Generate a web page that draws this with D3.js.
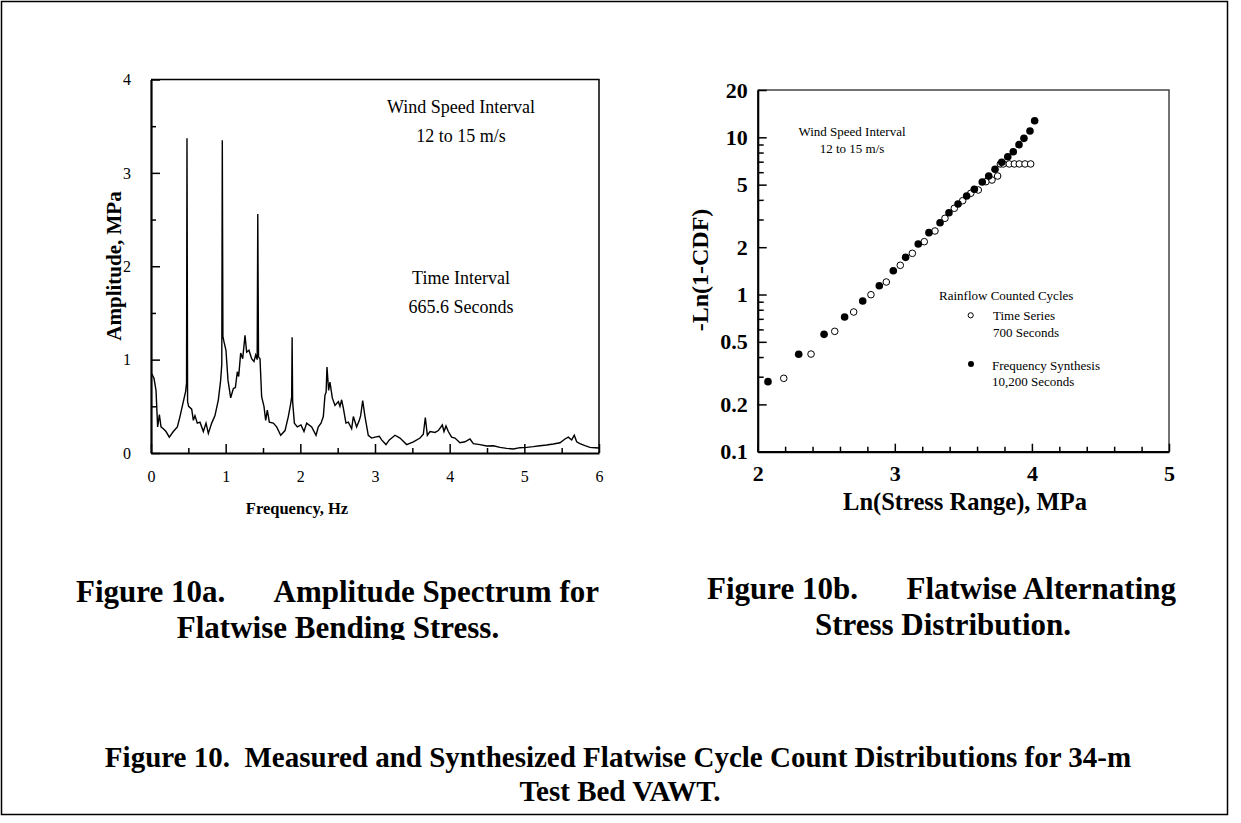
<!DOCTYPE html>
<html><head><meta charset="utf-8">
<script src="https://cdn.jsdelivr.net/npm/d3@7"></script>
<style>
html,body{margin:0;padding:0;background:#fff;}
svg{display:block;font-family:"Liberation Serif","Times New Roman",serif;}
</style></head><body>
<svg id="fig" width="1241" height="823"></svg>
<script>
// Amplitude spectrum of flatwise bending stress (Hz, MPa)
const spectrumFreq = [0.009,0.040,0.067,0.089,0.112,0.134,0.165,0.201,0.245,0.299,0.353,0.388,0.433,0.464,0.476,0.482,0.490,0.504,0.545,0.567,0.589,0.620,0.656,0.701,0.737,0.768,0.813,0.857,0.902,0.933,0.948,0.955,0.963,0.978,1.004,1.031,1.067,1.103,1.130,1.156,1.174,1.201,1.228,1.259,1.281,1.312,1.348,1.379,1.402,1.422,1.430,1.440,1.460,1.482,1.513,1.536,1.558,1.585,1.638,1.683,1.737,1.795,1.839,1.871,1.884,1.890,1.897,1.920,1.960,2.009,2.049,2.085,2.152,2.210,2.241,2.277,2.308,2.330,2.345,2.357,2.379,2.397,2.428,2.464,2.509,2.531,2.553,2.576,2.611,2.643,2.687,2.710,2.754,2.790,2.808,2.835,2.866,2.910,2.955,3.000,3.058,3.089,3.147,3.192,3.268,3.335,3.424,3.514,3.603,3.647,3.674,3.701,3.737,3.804,3.848,3.902,3.924,3.951,3.982,4.026,4.071,4.138,4.205,4.272,4.317,4.406,4.495,4.585,4.674,4.763,4.853,4.942,5.031,5.120,5.210,5.299,5.388,5.478,5.544,5.589,5.634,5.669,5.701,5.745,5.812,5.879,5.946,6.000];
const spectrumAmp = [0.85,0.80,0.67,0.28,0.41,0.28,0.26,0.23,0.17,0.23,0.28,0.39,0.55,0.66,0.75,3.37,0.55,0.50,0.47,0.35,0.40,0.32,0.33,0.23,0.32,0.21,0.32,0.40,0.57,0.78,0.95,3.35,1.25,1.19,1.10,0.78,0.59,0.69,0.70,0.87,0.82,1.07,1.01,1.26,1.08,1.10,1.01,0.98,1.05,1.00,2.56,1.03,1.01,0.60,0.50,0.35,0.46,0.33,0.32,0.28,0.19,0.24,0.39,0.53,0.60,1.24,0.55,0.32,0.28,0.30,0.23,0.32,0.28,0.19,0.28,0.32,0.39,0.62,0.65,0.92,0.67,0.76,0.59,0.51,0.55,0.50,0.57,0.48,0.32,0.33,0.26,0.39,0.28,0.35,0.40,0.56,0.39,0.19,0.16,0.17,0.18,0.14,0.09,0.14,0.19,0.16,0.09,0.12,0.16,0.20,0.38,0.19,0.23,0.22,0.24,0.30,0.23,0.29,0.23,0.17,0.16,0.11,0.12,0.15,0.10,0.09,0.075,0.078,0.06,0.05,0.043,0.057,0.06,0.068,0.078,0.086,0.096,0.11,0.15,0.17,0.14,0.19,0.12,0.10,0.078,0.06,0.057,0.054];
const freqTicks = [0,1,2,3,4,5,6];
const ampTicks = [0,1,2,3,4];

// Rainflow counted cycles: Ln(stress range) vs -Ln(1-CDF)
const synthStress = [2.075,2.299,2.484,2.634,2.766,2.887,2.989,3.079,3.171,3.249,3.330,3.395,3.461,3.524,3.580,3.638,3.685,3.731,3.780,3.824,3.864,3.906,3.942,3.986,4.020];
const synthProb = [0.279,0.417,0.558,0.719,0.909,1.138,1.417,1.724,2.096,2.474,2.863,3.315,3.765,4.234,4.67,5.2,5.674,6.258,6.935,7.53,8.1,8.98,9.85,10.97,12.76];
const seriesStress = [2.190,2.389,2.562,2.700,2.826,2.938,3.040,3.128,3.215,3.293,3.366,3.434,3.495,3.554,3.609,3.665,3.709,3.750,3.770,3.791,3.835,3.872,3.908,3.950,3.991];
const seriesProb = [0.293,0.418,0.583,0.774,0.997,1.201,1.534,1.828,2.168,2.536,3.054,3.536,3.952,4.404,4.623,5.22,5.35,5.674,6.77,6.77,6.77,6.77,6.77,6.77,6.77];
const stressTicks = [2,3,4,5];
const probTicks = [0.1,0.2,0.5,1,2,5,10,20];

const svg = d3.select('#fig');
const serif = '"Liberation Serif","Times New Roman",serif';

// page frame
svg.append('rect').attr('x',1.5).attr('y',1.5).attr('width',1226).attr('height',813)
  .attr('fill','none').attr('stroke','#000').attr('stroke-width',1.5);

function styleAxis(g, size, weight, domainW){
  g.attr('font-family', serif).attr('font-size', size).attr('font-weight', weight);
  g.selectAll('text').attr('fill','#000');
  g.selectAll('line').attr('stroke','#000').attr('stroke-width',1.5);
  g.select('.domain').attr('stroke','#000').attr('stroke-width',domainW);
}

// ---------- Figure 10a: amplitude spectrum ----------
const xA = d3.scaleLinear().domain([0,6]).range([151,599]);
const yA = d3.scaleLinear().domain([0,4]).range([453,79.5]);
const gA = svg.append('g');

gA.append('path').attr('d', `M${xA(0)},${yA(4)}H${xA(6)}V${yA(0)}`)
  .attr('fill','none').attr('stroke','#000').attr('stroke-width',1.5);

gA.append('g').attr('transform',`translate(0,${yA(0)})`)
  .call(d3.axisBottom(xA).tickValues(freqTicks.slice(0,-1).map(v=>v+0.5)).tickSize(-5).tickFormat('').tickSizeOuter(0))
  .call(g=>{g.select('.domain').remove(); styleAxis(g,16,'normal',2);});
gA.append('g').attr('transform',`translate(${xA(0)},0)`)
  .call(d3.axisLeft(yA).tickValues(ampTicks.slice(0,-1).map(v=>v+0.5)).tickSize(-5).tickFormat('').tickSizeOuter(0))
  .call(g=>{g.select('.domain').remove(); styleAxis(g,16,'normal',2);});

gA.append('g').attr('transform',`translate(0,${yA(0)})`)
  .call(d3.axisBottom(xA).tickValues(freqTicks).tickSize(-9).tickSizeOuter(0).tickPadding(18).tickFormat(d3.format('d')))
  .call(g=>styleAxis(g,16,'normal',2.2));
gA.append('g').attr('transform',`translate(${xA(0)},0)`)
  .call(d3.axisLeft(yA).tickValues(ampTicks).tickSize(-9).tickSizeOuter(0).tickPadding(20).tickFormat(d3.format('d')))
  .call(g=>styleAxis(g,16,'normal',2.2));

const spectrumLine = d3.line().x(d=>xA(d[0])).y(d=>yA(d[1]));
gA.append('path').datum(d3.zip(spectrumFreq, spectrumAmp))
  .attr('d', spectrumLine).attr('fill','none').attr('stroke','#000')
  .attr('stroke-width',1.4).attr('stroke-linejoin','miter');

const annA = gA.append('g').attr('font-family',serif).attr('font-size',18).attr('text-anchor','middle').attr('fill','#000');
annA.append('text').attr('x',461).attr('y',113).text('Wind Speed Interval');
annA.append('text').attr('x',461).attr('y',142).text('12 to 15 m/s');
annA.append('text').attr('x',461).attr('y',284).text('Time Interval');
annA.append('text').attr('x',461).attr('y',313).text('665.6 Seconds');

gA.append('text').attr('x',297).attr('y',514).attr('text-anchor','middle')
  .attr('font-family',serif).attr('font-size',16.5).attr('font-weight','bold').text('Frequency, Hz');
gA.append('text').attr('transform','translate(121,266) rotate(-90)').attr('text-anchor','middle')
  .attr('font-family',serif).attr('font-size',21).attr('font-weight','bold').text('Amplitude, MPa');

// ---------- Figure 10b: stress distribution ----------
const xB = d3.scaleLinear().domain([2,5]).range([757.7,1169]);
const yB = d3.scaleLog().domain([0.1,20]).range([451.7,90]);
const gB = svg.append('g');

gB.append('path').attr('d', `M${xB(2)},${yB(20)}H${xB(5)}V${yB(0.1)}`)
  .attr('fill','none').attr('stroke','#444').attr('stroke-width',1.5);

const stressMinor = d3.range(0,15).map(i=>2+i*0.2).filter(v=>Math.abs(v-Math.round(v))>1e-6);
gB.append('g').attr('transform',`translate(0,${yB(0.1)})`)
  .call(d3.axisBottom(xB).tickValues(stressMinor).tickSize(-5).tickFormat('').tickSizeOuter(0))
  .call(g=>{g.select('.domain').remove(); styleAxis(g,16,'normal',2);});
const probMinor = [0.3,0.4,0.6,0.7,0.8,0.9,3,4,6,7,8,9];
gB.append('g').attr('transform',`translate(${xB(2)},0)`)
  .call(d3.axisLeft(yB).tickValues(probMinor).tickSize(-6).tickFormat('').tickSizeOuter(0))
  .call(g=>{g.select('.domain').remove(); styleAxis(g,16,'normal',2);});

gB.append('g').attr('transform',`translate(0,${yB(0.1)})`)
  .call(d3.axisBottom(xB).tickValues(stressTicks).tickSize(-8).tickSizeOuter(0).tickPadding(14).tickFormat(d3.format('d')))
  .call(g=>styleAxis(g,22,'bold',2.2));
gB.append('g').attr('transform',`translate(${xB(2)},0)`)
  .call(d3.axisLeft(yB).tickValues(probTicks).tickSize(-9).tickSizeOuter(0).tickPadding(10).tickFormat(d=>String(d)))
  .call(g=>styleAxis(g,22,'bold',2.2));

gB.append('g').selectAll('circle').data(d3.zip(seriesStress, seriesProb)).join('circle')
  .attr('cx',d=>xB(d[0])).attr('cy',d=>yB(d[1])).attr('r',3.3)
  .attr('fill','#fff').attr('stroke','#000').attr('stroke-width',1);
gB.append('g').selectAll('circle').data(d3.zip(synthStress, synthProb)).join('circle')
  .attr('cx',d=>xB(d[0])).attr('cy',d=>yB(d[1])).attr('r',3.8).attr('fill','#000');

const annB = gB.append('g').attr('font-family',serif).attr('font-size',13).attr('fill','#000');
annB.append('text').attr('x',852).attr('y',136).attr('text-anchor','middle').text('Wind Speed Interval');
annB.append('text').attr('x',852).attr('y',153).attr('text-anchor','middle').text('12 to 15 m/s');
annB.append('text').attr('x',939).attr('y',300).text('Rainflow Counted Cycles');
annB.append('circle').attr('cx',970.7).attr('cy',315.3).attr('r',2.6).attr('fill','#fff').attr('stroke','#000').attr('stroke-width',1);
annB.append('text').attr('x',993).attr('y',320).text('Time Series');
annB.append('text').attr('x',993).attr('y',337).text('700 Seconds');
annB.append('circle').attr('cx',971).attr('cy',364).attr('r',3).attr('fill','#000');
annB.append('text').attr('x',992).attr('y',370).text('Frequency Synthesis');
annB.append('text').attr('x',992).attr('y',386).text('10,200 Seconds');

gB.append('text').attr('x',965).attr('y',510).attr('text-anchor','middle')
  .attr('font-family',serif).attr('font-size',24.5).attr('font-weight','bold').text('Ln(Stress Range), MPa');
gB.append('text').attr('transform','translate(708,270) rotate(-90)').attr('text-anchor','middle')
  .attr('font-family',serif).attr('font-size',24).attr('font-weight','bold').text('-Ln(1-CDF)');

// ---------- captions ----------
const cap = svg.append('g').attr('font-family',serif).attr('font-weight','bold').attr('fill','#000');
svg.append('clipPath').attr('id','capClip').append('rect').attr('x',0).attr('y',0).attr('width',1241).attr('height',640);
const capA = cap.append('g').attr('font-size',31).attr('clip-path','url(#capClip)');
capA.append('text').attr('x',76).attr('y',602).text('Figure 10a.');
capA.append('text').attr('x',599).attr('y',602).attr('text-anchor','end').text('Amplitude Spectrum for');
capA.append('text').attr('x',338).attr('y',638).attr('text-anchor','middle').text('Flatwise Bending Stress.');
const capB = cap.append('g').attr('font-size',31);
capB.append('text').attr('x',707).attr('y',599).text('Figure 10b.');
capB.append('text').attr('x',1176).attr('y',599).attr('text-anchor','end').text('Flatwise Alternating');
capB.append('text').attr('x',943).attr('y',635).attr('text-anchor','middle').text('Stress Distribution.');
const capM = cap.append('g').attr('font-size',29).attr('text-anchor','middle');
capM.append('text').attr('x',618).attr('y',767).attr('xml:space','preserve').text('Figure 10.  Measured and Synthesized Flatwise Cycle Count Distributions for 34-m');
capM.append('text').attr('x',620).attr('y',801).text('Test Bed VAWT.');
</script></body></html>
